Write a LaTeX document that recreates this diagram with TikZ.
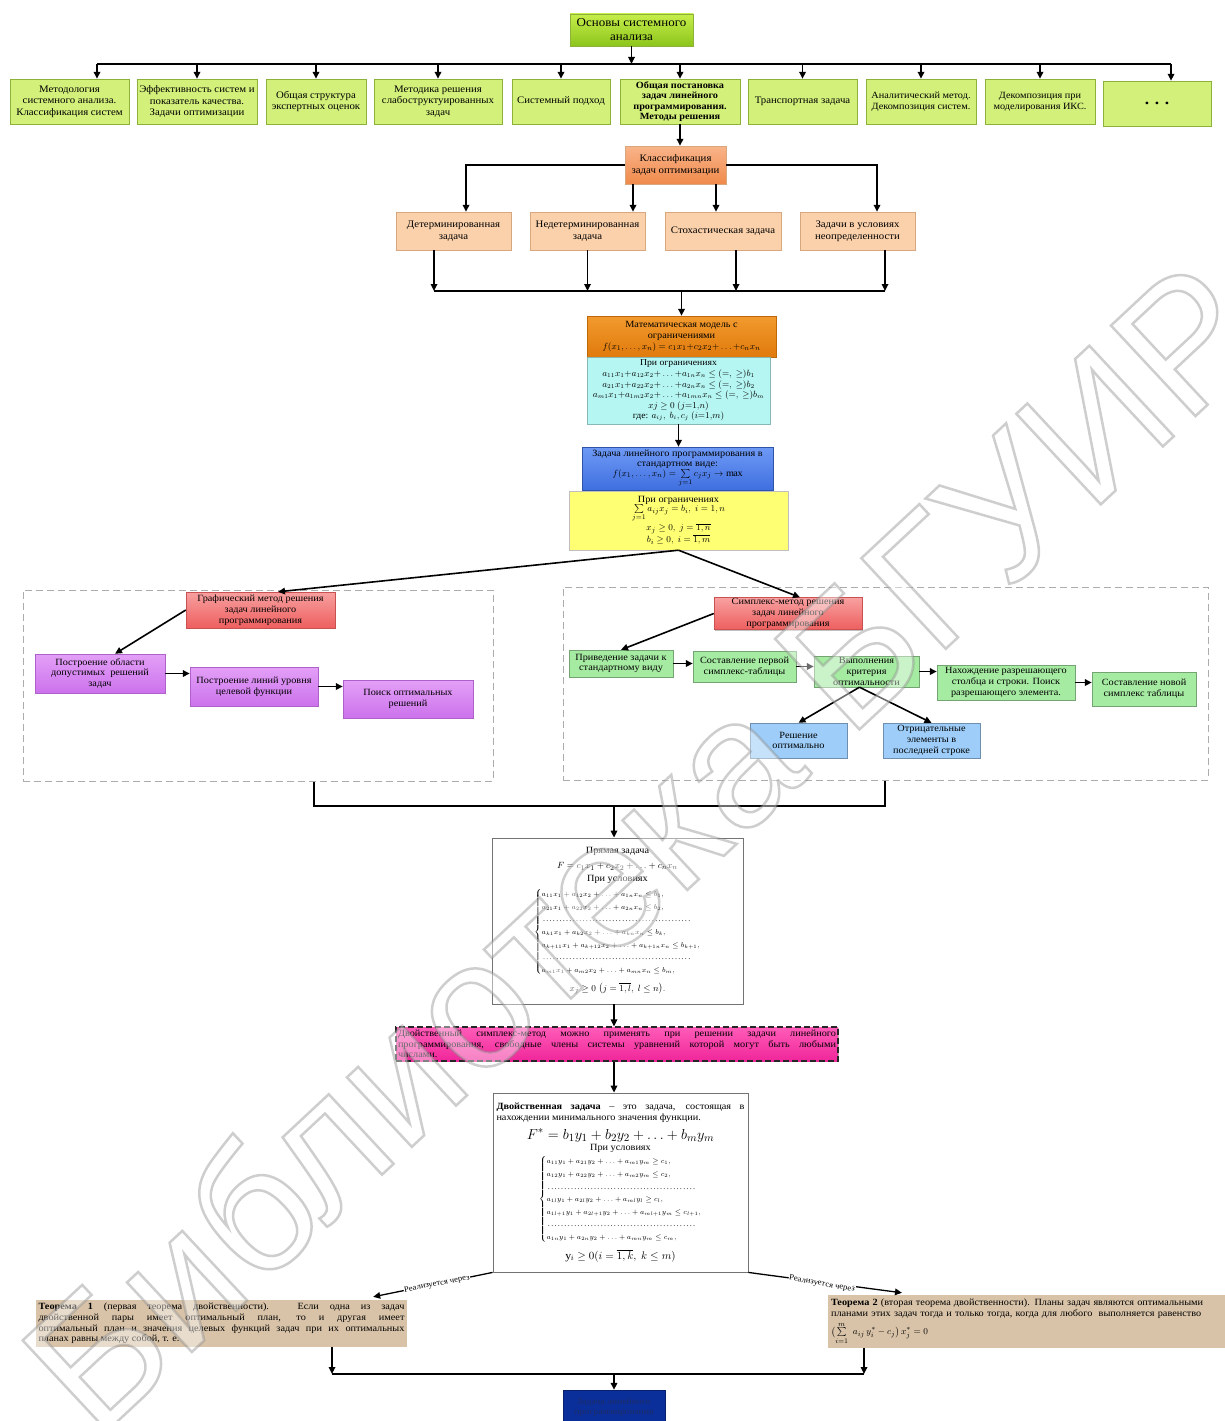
\documentclass[tikz,border=0pt]{standalone}
\usepackage{amsmath}
\usepackage{fontspec}
\setmainfont{Liberation Serif}[FakeStretch=1.08]
\newfontfamily\wmfont{Liberation Sans}
\usetikzlibrary{arrows.meta,shadows}
\newcommand\fs[2]{\fontsize{#1}{#2}\selectfont}
\definecolor{limeT}{HTML}{C6EE4A}
\definecolor{limeB}{HTML}{8CC51C}
\definecolor{limeF}{HTML}{D3F07A}
\definecolor{limeD}{HTML}{8DB23A}
\definecolor{orT}{HTML}{F9B48A}
\definecolor{orB}{HTML}{F08A4B}
\definecolor{peach}{HTML}{FBD1AB}
\definecolor{peachD}{HTML}{D9A77E}
\definecolor{mathT}{HTML}{F29A2E}
\definecolor{mathB}{HTML}{E07A0C}
\definecolor{cyanF}{HTML}{B5F5F2}
\definecolor{blueT}{HTML}{6E9AF5}
\definecolor{blueB}{HTML}{3F6FE0}
\definecolor{yellF}{HTML}{FFFF73}
\definecolor{redT}{HTML}{F8A0A0}
\definecolor{redB}{HTML}{EE5F5F}
\definecolor{purT}{HTML}{E3A0F7}
\definecolor{purB}{HTML}{CC72EC}
\definecolor{grnF}{HTML}{A6EBA2}
\definecolor{lbluF}{HTML}{9DCDF8}
\definecolor{pinkT}{HTML}{FF5CB8}
\definecolor{pinkB}{HTML}{F0269A}
\definecolor{tanF}{HTML}{D8C3A8}
\definecolor{navyF}{HTML}{0B2F9A}
\definecolor{navyT}{HTML}{1B2C66}
\tikzset{
  bxbase/.style={draw, align=center, inner sep=1pt, font=\fs{9.5}{11},
    drop shadow={shadow xshift=1.3pt, shadow yshift=-1.3pt, fill=black, opacity=0.25}},
  topst/.style={bxbase, top color=limeT, bottom color=limeB, draw=limeD, font=\fs{12}{14}},
  r1st/.style={bxbase, fill=limeF, draw=limeD, font=\fs{10}{11.5}},
  clsst/.style={bxbase, top color=orT, bottom color=orB, draw=peachD, font=\fs{10}{11.5}},
  pchst/.style={bxbase, fill=peach, draw=peachD, font=\fs{10}{11.5}},
  mathst/.style={bxbase, top color=mathT, bottom color=mathB, draw=mathB!85!black, font=\fs{9.5}{11}},
  cyst/.style={bxbase, fill=cyanF, draw=cyanF!75!black, font=\fs{9}{10.6}},
  bluest/.style={bxbase, top color=blueT, bottom color=blueB, draw=blueB!75!black, font=\fs{9.5}{10.5}},
  yellst/.style={bxbase, fill=yellF, draw=black!25, font=\fs{9.5}{10.5}},
  dsh/.style={draw=gray!65, dash pattern=on 7pt off 4pt, line width=1pt},
  redst/.style={bxbase, top color=redT, bottom color=redB, draw=redB!85!black, font=\fs{9.5}{10.8}},
  purst/.style={bxbase, top color=purT, bottom color=purB, draw=purB!85!black, font=\fs{9.5}{10.8}},
  grnst/.style={bxbase, fill=grnF, draw=grnF!70!black, font=\fs{9.5}{10.8}},
  lbst/.style={bxbase, fill=lbluF, draw=lbluF!70!black, font=\fs{9.5}{10.8}},
  whst/.style={bxbase, fill=white, draw=black!55, line width=0.8pt},
  pinkst/.style={bxbase, top color=pinkT, bottom color=pinkB, draw=black!85, line width=1.2pt,
    dash pattern=on 6pt off 3pt, align=justify, text width=438pt, font=\fs{9.5}{10.5}},
  tanst/.style={draw=none, fill=tanF, inner sep=2pt, font=\fs{9.5}{10.6}},
  navst/.style={bxbase, fill=navyF, draw=navyF!70!black, text=navyT, font=\fs{9}{10.5}},
  arr/.style={line width=1.6pt, -{Triangle[length=7pt,width=6.5pt]}},
  ln/.style={line width=1.6pt},
  lab/.style={fill=white, inner sep=0.6pt, font=\fs{8}{9}},
}
% \bx[style]{name}{x1}{y1}{x2}{y2}{text}
\newcommand\bx[7][]{\node[#1, minimum width={#5-#3}, minimum height={#6-#4}] (#2) at ({(#3+#5)/2},{(#4+#6)/2}) {#7};}
\begin{document}
\begin{tikzpicture}[x=1pt,y=-1pt]
\useasboundingbox[fill=white] (0,0) rectangle (1224,1421);

% dashed containers
\bx[dsh]{lbox}{23}{590}{493}{781}{}
\bx[dsh]{rbox}{563}{587}{1208}{780}{}

% top
\bx[topst]{top}{570}{14}{693}{46}{Основы системного\\анализа}

% row 1
\bx[r1st]{r1}{10}{79}{129}{124}{Методология\\системного анализа.\\Классификация систем}
\bx[r1st]{r2}{137}{79}{257}{124}{Эффективность систем и\\показатель качества.\\Задачи оптимизации}
\bx[r1st]{r3}{266}{79}{366}{124}{Общая структура\\экспертных оценок}
\bx[r1st]{r4}{374}{79}{502}{124}{Методика решения\\слабоструктуированных\\задач}
\bx[r1st]{r5}{512}{79}{610}{124}{Системный подход}
\bx[r1st,font=\fs{9.5}{10.4}\bfseries]{r6}{620}{79}{740}{124}{Общая постановка\\задач линейного\\программирования.\\Методы решения}
\bx[r1st]{r7}{748}{79}{857}{124}{Транспортная задача}
\bx[r1st,font=\fs{9.5}{11}]{r8}{866}{79}{976}{124}{Аналитический метод.\\Декомпозиция систем.}
\bx[r1st,font=\fs{9.5}{11}]{r9}{985}{79}{1095}{124}{Декомпозиция при\\моделирования ИКС.}
\bx[r1st,font=\fs{16}{16}\bfseries]{r10}{1103}{81}{1211}{126}{. . .}

\coordinate (bus1L) at (97,64);
\coordinate (bus1R) at (1171,64);
\draw[ln] (bus1L) -- (bus1R);
\draw[arr] (top.south) -- (top.south |- bus1L);
\draw[arr] (bus1L) -- (bus1L |- r1.north);
\foreach \n in {r2,r3,r4,r5,r6,r7,r8,r9} \draw[arr] (\n.north |- bus1L) -- (\n.north);
\draw[arr] (bus1R) -- (bus1R |- r10.north);

% classification
\bx[clsst]{cls}{625}{146}{726}{184}{Классификация\\задач оптимизации}
\draw[arr] (r6.south) -- (r6.south |- cls.north);
\bx[pchst]{d1}{396}{212}{511}{250}{Детерминированная\\задача}
\bx[pchst]{d2}{530}{212}{645}{250}{Недетерминированная\\задача}
\bx[pchst]{d3}{665}{212}{781}{250}{Стохастическая задача}
\bx[pchst]{d4}{800}{212}{915}{250}{Задачи в условиях\\неопределенности}
\draw[arr] (cls.west) -| ([xshift=12.5pt]d1.north);
\draw[arr] (cls.east) -| ([xshift=19.5pt]d4.north);
\draw[arr] ([xshift=-42.5pt]cls.south) -- ([xshift=-42.5pt]cls.south |- d2.north);
\draw[arr] ([xshift=40.5pt]cls.south) -- ([xshift=40.5pt]cls.south |- d3.north);

\coordinate (bus2L) at (434,291);
\coordinate (bus2R) at (885,291);
\draw[ln] (bus2L) -- (bus2R);
\draw[arr] (bus2L |- d1.south) -- (bus2L);
\draw[arr] (d2.south) -- (d2.south |- bus2L);
\draw[arr] ([xshift=13pt]d3.south) -- ([xshift=13pt]d3.south |- bus2L);
\draw[arr] (bus2R |- d4.south) -- (bus2R);

% math model
\bx[mathst]{mo}{587}{316}{776}{357}{Математическая модель с\\ограничениями\\$f(x_1,\ldots,x_n)=c_1x_1{+}c_2x_2{+}\ldots{+}c_nx_n$}
\bx[cyst]{cy}{587}{357}{770}{424}{При ограничениях\\
$a_{11}x_1{+}a_{12}x_2{+}\ldots{+}a_{1n}x_n \le (=,\ \ge)b_1$\\
$a_{21}x_1{+}a_{22}x_2{+}\ldots{+}a_{2n}x_n \le (=,\ \ge)b_2$\\
$a_{m1}x_1{+}a_{1m2}x_2{+}\ldots{+}a_{1mn}x_n \le (=,\ \ge)b_m$\\
$xj \ge 0\ (j{=}1{,}n)$\\
где: $a_{ij},\ b_i, c_j\ (i{=}1{,}m)$}
\draw[arr] (mo.north |- bus2L) -- (mo.north);

\bx[bluest]{lp}{582}{447}{773}{490}{Задача линейного программирования в\\стандартном виде:\\[-1pt]$f(x_1,\ldots,x_n)=\sum\limits_{j=1} c_jx_j \to \max$}
\bx[yellst]{yw}{569}{491}{788}{550}{При ограничениях\\[-2pt]$\sum\limits_{j=1} a_{ij}x_j = b_i,\ i=1,n$\\$x_j \ge 0,\ j=\overline{1,n}$\\$b_i \ge 0,\ i=\overline{1,m}$}
\draw[arr] (cy.south) -- (cy.south |- lp.north);

% graphical method
\bx[redst]{gm}{186}{592}{335}{628}{Графический метод решения\\задач линейного\\программирования}
\bx[purst]{p1}{35}{654}{165}{693}{Построение области\\допустимых~ решений\\задач}
\bx[purst]{p2}{190}{667}{318}{706}{Построение линий уровня\\целевой функции}
\bx[purst]{p3}{343}{680}{473}{718}{Поиск оптимальных\\решений}
\draw[arr] (yw.south) -- ([xshift=17.5pt]gm.north);
\draw[arr] (gm.west) -- ([xshift=15pt]p1.north);
\draw[arr] (p1.east) -- (p1.east -| p2.west);
\draw[arr] (p2.east) -- (p2.east -| p3.west);

% simplex method
\bx[redst]{sm}{714}{598}{862}{629}{Симплекс-метод решения\\задач линейного\\программирования}
\bx[grnst]{g1}{569}{650}{673}{677}{Приведение задачи к\\стандартному виду}
\bx[grnst]{g2}{693}{651}{796}{682}{Составление первой\\симплекс-таблицы}
\bx[grnst]{g3}{814}{656}{919}{687}{Выполнения\\критерия\\оптимальности}
\bx[grnst]{g4}{937}{665}{1075}{700}{Нахождение разрешающего\\столбца и строки. Поиск\\разрешающего элемента.}
\bx[grnst]{g5}{1092}{672}{1196}{706}{Составление новой\\симплекс таблицы}
\bx[lbst]{b1}{750}{723}{847}{758}{Решение\\оптимально}
\bx[lbst]{b2}{883}{723}{980}{758}{Отрицательные\\элементы в\\последней строке}
\draw[arr] (yw.south) -- ([xshift=12pt]sm.north);
\draw[arr] (sm.west) -- (g1.north);
\draw[arr] (g1.east) -- (g1.east -| g2.west);
\draw[arr] (g2.east) -- (g2.east -| g3.west);
\draw[arr] (g3.east) -- (g3.east -| g4.west);
\draw[arr] (g4.east) -- (g4.east -| g5.west);
\draw[arr] ([xshift=-7pt]g3.south) -- (b1.north);
\draw[arr] ([xshift=-7pt]g3.south) -- (b2.north);

% merge to direct problem
\coordinate (bus3L) at (314,806);
\coordinate (bus3R) at (885,806);
\coordinate (b3) at (614,806);
\draw[ln] (lbox.south -| bus3L) -- (bus3L) -- (bus3R) -- (bus3R |- rbox.south);

\node[whst, minimum width=251, minimum height=166, font=\fs{9.5}{12}] (dp) at (617.5,921) {Прямая задача\\[3pt]
$F = c_1x_1 + c_2x_2 + \ldots + c_nx_n$\\[1pt]
При условиях\\[3pt]
{\fs{7.5}{9}\renewcommand{\arraystretch}{1.4}$\left\{\begin{array}{@{}l@{}}
a_{11}x_1 + a_{12}x_2 + \ldots + a_{1n}x_n \le b_1,\\
a_{21}x_1 + a_{22}x_2 + \ldots + a_{2n}x_n \le b_2,\\
\text{\makebox[150pt]{\dotfill}}\\
a_{k1}x_1 + a_{k2}x_2 + \ldots + a_{kn}x_n \le b_k,\\
a_{k+11}x_1 + a_{k+12}x_2 + \ldots + a_{k+1n}x_n \le b_{k+1},\\
\text{\makebox[150pt]{\dotfill}}\\
a_{m1}x_1 + a_{m2}x_2 + \ldots + a_{mn}x_n \le b_m,
\end{array}\right.$}\\[6pt]
$x_j \ge 0\ \bigl(j=\overline{1,l},\ l\le n\bigr).$};
\draw[arr] (b3) -- (b3 |- dp.north);

\node[pinkst, minimum width=442, minimum height=34] (pk) at (617,1044) {Двойственный симплекс-метод можно применять при решении задачи линейного\linebreak программирования, свободные члены системы уравнений которой могут быть любыми\linebreak числами.};
\draw[arr] (dp.south -| b3) -- (b3 |- pk.north);

\node[whst, minimum width=255, minimum height=179, font=\fs{9.5}{11}] (du) at (620.5,1182.5) {\parbox{248pt}{\textbf{Двойственная задача} – это задача, состоящая в\linebreak нахождении минимального значения функции.}\\[5pt]
{\fs{15}{17}$F^{*} = b_1y_1 + b_2y_2 + \ldots + b_my_m$}\\
При условиях\\[2pt]
{\fs{7.5}{9}\renewcommand{\arraystretch}{1.4}$\left\{\begin{array}{@{}l@{}}
a_{11}y_1 + a_{21}y_2 + \ldots + a_{m1}y_m \ge c_1,\\
a_{12}y_1 + a_{22}y_2 + \ldots + a_{m2}y_m \le c_2,\\
\text{\makebox[150pt]{\dotfill}}\\
a_{1l}y_1 + a_{2l}y_2 + \ldots + a_{ml}y_l \ge c_l,\\
a_{1l+1}y_1 + a_{2l+1}y_2 + \ldots + a_{ml+1}y_m \le c_{l+1},\\
\text{\makebox[150pt]{\dotfill}}\\
a_{1n}y_1 + a_{2n}y_2 + \ldots + a_{mn}y_m \le c_m,
\end{array}\right.$}\\[5pt]
{\fs{11}{13}$\mathrm{y}_i \ge 0(i=\overline{1,k},\ k\le m)$}};
\draw[arr] (pk.south -| b3) -- (b3 |- du.north);

% theorems
\node[tanst, minimum width=371, minimum height=47, text width=366pt, align=justify] (t1) at (221.5,1323.5) {\textbf{Теорема 1} (первая теорема двойственности). Если одна из задач\linebreak двойственной пары имеет оптимальный план, то и другая имеет\linebreak оптимальный план и значения целевых функций задач при их оптимальных\linebreak планах равны между собой, т. е.};
\node[tanst, minimum width=412, minimum height=53, text width=406pt, align=left] (t2) at (1034,1321.5) {\textbf{Теорема 2} (вторая теорема двойственности). Планы задач являются оптимальными\\ планами этих задач тогда и только тогда, когда для любого~ выполняется равенство\\[3pt] $\bigl(\sum\limits_{i=1}^{m}\ a_{ij}\,y_i^{*} - c_j\bigr)\,x_j^{*} = 0$};

\coordinate (rl1) at (480,1275);
\coordinate (rr1) at (760,1274);
\draw[arr, line width=1.3pt] (du.south west) -- (rl1) -- ([xshift=-34pt,yshift=3pt]t1.north east);
\draw[arr, line width=1.3pt] (du.south east) -- (rr1) -- ([xshift=-132pt,yshift=2pt]t2.north);
\node[lab, rotate=11] (lbl1) at (437,1284) {Реализуется через};
\node[lab, rotate=-10] (lbl2) at (822,1284) {Реализуется через};

\coordinate (bus4L) at (332,1374);
\coordinate (bus4R) at (864,1374);
\draw[ln] (bus4L) -- (bus4R);
\draw[arr] (t1.south -| bus4L) -- (bus4L);
\draw[arr] (t2.south -| bus4R) -- (bus4R);

\bx[navst]{fin}{563}{1390}{665}{1425}{Задача линейного\\программирования}
\draw[arr] (fin.north |- bus4L) -- (fin.north);

% watermark
\node[rotate=43, opacity=0.42, text=white, inner sep=0pt, font=\wmfont\fs{180}{180}] (wm) at (640,845) {\special{pdf:literal direct 2 Tr 2.5 w 0.55 0.55 0.55 RG}Библиотека БГУИР\special{pdf:literal direct 0 Tr}};
\end{tikzpicture}
\end{document}
